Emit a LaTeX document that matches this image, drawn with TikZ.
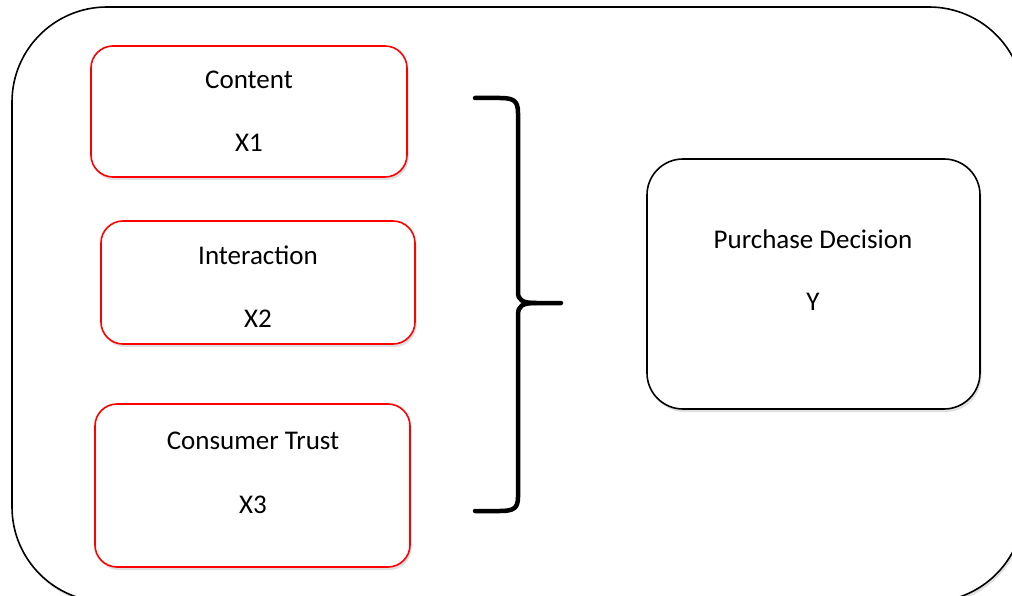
\documentclass[tikz,border=0pt]{standalone}
\usepackage{fontspec}
\setmainfont{Carlito}
\usetikzlibrary{shadows}
\begin{document}
\begin{tikzpicture}[x=1pt,y=-1pt,
  redbox/.style={draw=red, line width=1.6pt, rounded corners=22pt, fill=white,
    drop shadow={shadow xshift=1.5pt, shadow yshift=-3pt, opacity=0.12, fill=black}},
  blackbox/.style={draw=black, line width=1.6pt, rounded corners=36pt, fill=white,
    drop shadow={shadow xshift=1.5pt, shadow yshift=-3pt, opacity=0.12, fill=black}},
  lbl/.style={font=\fontsize{27}{32}\selectfont, inner sep=0pt, anchor=center},
  bracestyle/.style={line width=4.5pt, line cap=round, line join=round}]
\useasboundingbox (0,0) rectangle (1012,596);
\clip (0,0) rectangle (1012,596);
\fill[white] (0,0) rectangle (1012,596);
% outer frame
\draw[line width=1.6pt, rounded corners=95pt,
  drop shadow={shadow xshift=1.5pt, shadow yshift=-3pt, opacity=0.12, fill=black}, fill=white]
  (12,7) rectangle (1024,602);
% boxes
\node[redbox, minimum width=316pt, minimum height=131pt] (b1) at (249,111.5) {};
\node[redbox, minimum width=314pt, minimum height=123pt] (b2) at (258,282.5) {};
\node[redbox, minimum width=315pt, minimum height=163pt] (b3) at (252.5,485.5) {};
\node[blackbox, minimum width=333pt, minimum height=250pt] (by) at (813.5,284) {};
% labels
\node[lbl] (t1) at (249,80) {Content};
\node[lbl] (x1) at (249,143) {X1};
\node[lbl] (t2) at (258,255) {Interaction};
\node[lbl] (x2) at (258,319) {X2};
\node[lbl] (t3) at (253,441) {Consumer Trust};
\node[lbl] (x3) at (253,505) {X3};
\node[lbl] (ty) at (813,239) {Purchase Decision};
\node[lbl] (yy) at (813,302) {Y};
% brace
\coordinate (btop) at (475,98);
\coordinate (bbot) at (475,511);
\coordinate (btip) at (561,303);
\draw[bracestyle] (btop) -- (500,98) .. controls (514,98) and (518,101) .. (518,113)
  -- (518,292) .. controls (518,300) and (522,303) .. (536,303) -- (btip);
\draw[bracestyle] (536,303) .. controls (522,303) and (518,306) .. (518,315)
  -- (518,497) .. controls (518,508) and (514,511) .. (500,511) -- (bbot);
\end{tikzpicture}
\end{document}
